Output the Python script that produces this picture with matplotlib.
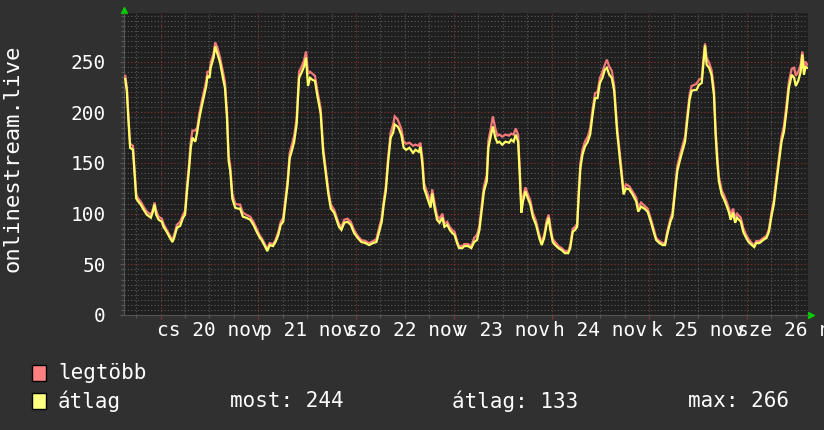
import matplotlib

matplotlib.use("Agg")
import matplotlib.pyplot as plt
from matplotlib.patches import Rectangle
from matplotlib.ticker import FixedLocator, FuncFormatter, MultipleLocator

# hours since 20 nov 00:00 (one list, grouped by day)
HOURS = [
    -8.7, -8.3, -7.9, -7.5, -6.8, -6.5, -6.0, -5.5, -4.9, -4.2, -3.4, -2.4, -1.9, -1.5, -1.1, -0.5,
    0.3, 0.7, 1.5, 2.3, 2.9, 3.3, 4.0, 4.8, 5.5, 6.0, 6.4, 7.0, 7.4, 7.8, 8.5, 9.0, 9.5, 10.1, 10.7, 11.2,
    11.5, 12.0, 12.3, 13.0, 13.4, 14.0, 14.6, 15.3, 15.8, 16.3, 16.7, 17.1, 17.6, 18.3, 18.9, 19.5, 20.2,
    21.0, 22.0, 22.8, 23.6,
    24.4, 24.8, 25.6, 26.2, 26.8, 27.6, 28.2, 28.9, 29.5, 30.1, 30.7, 31.2, 31.7, 32.1, 32.8, 33.4, 34.0,
    34.6, 35.2, 35.7, 36.2, 36.7, 37.3, 37.9, 38.5, 39.3, 39.9, 40.6, 41.2, 41.8, 42.6, 43.2, 43.8, 44.4,
    45.1, 45.9, 46.7, 47.5,
    48.4, 49.3, 50.3, 51.2, 52.2, 53.0, 53.6, 54.3, 54.8, 55.3, 55.9, 56.5, 57.1, 57.5, 58.2, 58.5, 59.1,
    59.7, 60.3, 61.1, 62.0, 62.6, 63.4, 63.8, 64.3, 64.7, 65.2, 65.8, 66.3, 66.7, 67.3, 67.9, 68.5, 69.2,
    69.7, 70.4, 71.0, 71.6,
    72.2, 72.8, 73.3, 74.1, 74.6, 75.5, 76.3, 77.0, 77.7, 78.3, 78.9, 79.4, 80.1, 80.5, 81.0, 81.6, 82.2,
    82.7, 83.2, 83.9, 84.7, 85.6, 86.1, 86.7, 87.2, 87.8, 88.2, 88.6, 89.0, 89.6, 90.2, 90.8, 91.4, 92.1,
    92.4,
    93.0, 93.6, 94.2, 94.8, 95.3, 95.7, 96.3, 96.9, 97.7, 98.5, 99.3, 100.1, 100.6, 101.2, 101.8, 102.3,
    102.7, 103.1, 103.6, 104.2, 104.9, 105.5, 106.1, 106.7, 107.3, 107.9, 108.5, 109.1, 109.6, 110.2,
    110.8, 111.4, 112.1, 112.7, 113.2, 113.7, 114.3, 115.1, 115.9, 116.8, 117.3, 118.0, 118.8, 119.6,
    120.4, 121.1, 121.7, 122.5, 123.3, 123.9, 124.4, 125.2, 125.7, 126.3, 126.9, 127.5, 128.1, 128.8,
    129.4, 129.9, 130.4, 131.0, 131.6, 132.2, 132.9, 133.3, 133.7, 134.1, 134.7, 135.3, 135.9, 136.3,
    136.7, 137.1, 137.8, 138.4, 138.9, 139.6, 140.0, 140.6, 141.1, 141.6, 142.5, 143.1, 143.7,
    144.4, 145.2, 145.8, 146.3, 147.1, 148.0, 148.8, 149.4, 150.1, 150.6, 151.2, 151.9, 152.5, 153.1,
    153.7, 154.3, 155.0, 155.6, 156.0, 156.6, 157.2, 157.6, 158.0, 158.4, 158.8,
]

# "átlag" series
AVG = [
    233, 221, 191, 165, 163, 145, 115, 112, 109, 104, 99, 96, 102, 109, 99, 94,
    92, 87, 82, 76, 72, 76, 86, 88, 96, 99, 119, 145, 165, 175, 171, 181, 194, 206, 217, 226,
    236, 234, 244, 254, 265, 257, 249, 234, 224, 194, 152, 142, 115, 106, 105, 105, 97,
    96, 94, 89, 82,
    76, 74, 68, 63, 69, 68, 72, 79, 89, 92, 112, 129, 155, 160, 171, 188, 234,
    239, 245, 254, 226, 234, 232, 231, 216, 199, 161, 138, 119, 105, 101, 94, 87, 84,
    91, 92, 89, 81,
    76, 72, 71, 69, 71, 72, 81, 92, 109, 122, 152, 175, 180, 188, 186, 184, 178,
    165, 163, 165, 160, 163, 161, 166, 148, 125, 119, 112, 106, 120, 105, 94, 91, 96,
    87, 89, 84, 81,
    79, 71, 66, 66, 68, 68, 66, 72, 74, 84, 105, 122, 132, 165, 175, 186, 175,
    170, 171, 168, 171, 170, 173, 171, 178, 171, 138, 101, 112, 122, 115, 109, 97, 90,
    86,
    76, 69, 76, 89, 96, 84, 72, 69, 66, 64, 61, 61, 66, 82, 84, 87,
    119, 145, 158, 166, 171, 178, 198, 214, 214, 229, 234, 242, 244, 237,
    234, 221, 181, 158, 138, 119, 125, 124, 119, 112, 102, 107, 105, 102,
    92, 82, 74, 71, 69, 69, 79, 92, 97, 119, 142, 152, 161, 171,
    194, 212, 221, 222, 222, 227, 229, 247, 266, 247, 244, 237, 217, 178,
    152, 132, 119, 114, 109, 101, 94, 101, 91, 96, 92, 82, 77,
    72, 69, 67, 71, 71, 74, 76, 82, 99, 109, 129, 152, 171, 181,
    201, 224, 237, 234, 226, 231, 240, 257, 237, 245, 244,
]

# "legtöbb" series
MAX = [
    236, 225, 196, 169, 167, 149, 119, 115, 112, 107, 102, 99, 104, 111, 103, 97,
    95, 90, 84, 78, 74, 79, 89, 92, 99, 103, 124, 150, 171, 182, 182, 185, 199, 211, 222, 231,
    240, 240, 249, 258, 269, 263, 254, 240, 230, 200, 158, 147, 120, 110, 109, 109, 101,
    99, 97, 92, 85,
    78, 76, 70, 65, 71, 70, 74, 82, 92, 96, 117, 134, 160, 166, 177, 194, 240,
    245, 251, 260, 238, 240, 238, 236, 221, 204, 166, 143, 123, 109, 104, 97, 90, 87,
    94, 95, 92, 84,
    78, 74, 73, 71, 73, 75, 85, 96, 113, 127, 157, 180, 188, 196, 193, 190, 184,
    171, 169, 170, 167, 168, 167, 170, 154, 130, 124, 117, 110, 124, 110, 98, 95, 100,
    90, 92, 87, 84,
    82, 73, 68, 68, 70, 70, 68, 76, 79, 88, 110, 127, 138, 172, 182, 196, 184,
    177, 178, 176, 178, 177, 179, 178, 184, 178, 145, 106, 117, 126, 119, 113, 101, 94,
    89,
    79, 72, 79, 93, 99, 88, 75, 72, 68, 66, 63, 63, 69, 85, 87, 90,
    123, 150, 163, 171, 176, 184, 203, 219, 220, 234, 240, 247, 252, 245,
    241, 226, 186, 163, 143, 123, 129, 127, 122, 116, 106, 111, 108, 105,
    95, 85, 76, 73, 71, 71, 82, 95, 101, 124, 147, 157, 166, 176,
    199, 217, 226, 227, 228, 232, 234, 252, 268, 254, 249, 242, 223, 184,
    158, 137, 123, 118, 113, 105, 98, 105, 96, 100, 96, 86, 80,
    75, 71, 69, 73, 73, 76, 78, 85, 103, 113, 134, 157, 176, 187,
    207, 230, 243, 244, 236, 240, 247, 260, 246, 250, 247,
]

DAY_LABELS = ["cs 20 nov", "p 21 nov", "szo 22 nov", "v 23 nov", "h 24 nov", "k 25 nov", "sze 26 nov"]
MIDNIGHTS = [0, 24, 48, 72, 96, 120, 144]
Y_TICKS = [0, 50, 100, 150, 200, 250]
SERIES_NAMES = ["legtöbb", "átlag"]
STATS = ["most: 244", "átlag: 133", "max: 266"]

FONT = "DejaVu Sans Mono"
BG = "#303030"
CANVAS = "#1f1f1f"
MAX_COLOUR = "#f47a7a"
AVG_COLOUR = "#ffff66"
LEGEND_COLOURS = ["#ff8080", "#ffff80"]
W, H = 824, 430

fig = plt.figure(figsize=(W / 100, H / 100), dpi=100, facecolor=BG)
ax = fig.add_axes([124 / W, 1 - 315 / H, 684 / W, 302 / H], facecolor=CANVAS)

ax.plot(HOURS, MAX, color=MAX_COLOUR, lw=1.6, solid_joinstyle="miter", zorder=3)
ax.plot(HOURS, AVG, color=AVG_COLOUR, lw=1.6, solid_joinstyle="miter", zorder=4)

ax.set_xlim(-9, 159)
ax.set_ylim(0, 298)

# grid: grey dotted minor, red dotted major
ax.xaxis.set_major_locator(FixedLocator(MIDNIGHTS))
ax.xaxis.set_minor_locator(MultipleLocator(6))
ax.yaxis.set_major_locator(FixedLocator(Y_TICKS))
ax.yaxis.set_minor_locator(MultipleLocator(5))
ax.grid(which="minor", color="#5a5a5a", ls=(0, (1, 2)), lw=0.8)
ax.grid(which="major", color="#8a3434", ls=(0, (1, 2)), lw=0.8)
ax.set_axisbelow(True)

ax.xaxis.set_major_formatter(FuncFormatter(lambda v, _: ""))


def _day_label(v, _):
    k = int(round((v - 12) / 24))
    if abs(v - (12 + 24 * k)) < 0.1 and 0 <= k < len(DAY_LABELS):
        return DAY_LABELS[k]
    return ""


ax.xaxis.set_minor_formatter(FuncFormatter(_day_label))
ax.tick_params(axis="x", which="major", color="#8a3434", length=3, width=0.8)
ax.tick_params(axis="x", which="minor", color="#5a5a5a", length=2, width=0.8,
               labelcolor="white", labelsize=14, pad=2)
ax.tick_params(axis="y", which="both", color="#5a5a5a", labelcolor="white",
               labelsize=14, pad=10, length=3, width=0.8)
ax.tick_params(axis="y", which="minor", length=2)
for lab in ax.get_xticklabels(minor=True) + ax.get_yticklabels():
    lab.set_family(FONT)

for side in ("top", "right"):
    ax.spines[side].set_visible(False)
ax.spines["left"].set_color("#555555")
ax.spines["bottom"].set_color("#555555")

# arrows at the axis ends
ax.plot([0], [1.009], marker="^", ms=5, color="#00cc00", transform=ax.transAxes, clip_on=False)
ax.plot([1.004], [0], marker=">", ms=5, color="#00cc00", transform=ax.transAxes, clip_on=False)

fig.text(13 / W, 1 - 158 / H, "onlinestream.live", rotation=90, ha="center", va="center",
         color="white", fontsize=16, family=FONT)

# legend
rows_y = [373, 401]
for name, colour, y in zip(SERIES_NAMES, LEGEND_COLOURS, rows_y):
    fig.add_artist(Rectangle((32 / W, 1 - (y + 8) / H), 14 / W, 16 / H,
                             transform=fig.transFigure, facecolor=colour,
                             edgecolor="black", lw=1))
    fig.text(58 / W, 1 - y / H, name, ha="left", va="center", color="white",
             fontsize=15, family=FONT)

for txt, x in zip(STATS, [230, 452, 688]):
    fig.text(x / W, 1 - rows_y[1] / H, txt, ha="left", va="center", color="white",
             fontsize=15, family=FONT)

fig.savefig("out.png", dpi=100, facecolor=BG)
